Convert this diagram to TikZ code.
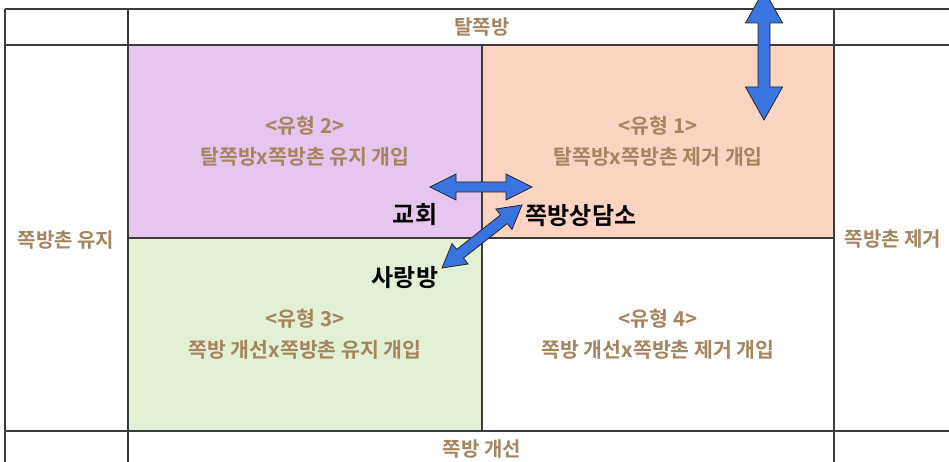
\documentclass[tikz,border=0pt]{standalone}
\usepackage{fontspec}
\setmainfont{Noto Sans CJK KR}[BoldFont={Noto Sans CJK KR Bold}]
\usetikzlibrary{calc}
\definecolor{purp}{HTML}{E4C6EE}
\definecolor{peach}{HTML}{FDD3C2}
\definecolor{mint}{HTML}{E2F0D5}
\definecolor{tanc}{HTML}{A5855F}
\definecolor{gridc}{HTML}{3C3C3C}
\definecolor{arrblue}{HTML}{3A74E0}
\newcommand\dblarr[5]{%
  \draw[arrsty] (#1)
    -- ($(#1)!#3!(#2)!#4!90:(#2)$)
    -- ($(#1)!#3!(#2)!#5!90:(#2)$)
    -- ($(#2)!#3!(#1)!#5!-90:(#1)$)
    -- ($(#2)!#3!(#1)!#4!-90:(#1)$)
    -- (#2)
    -- ($(#2)!#3!(#1)!#4!90:(#1)$)
    -- ($(#2)!#3!(#1)!#5!90:(#1)$)
    -- ($(#1)!#3!(#2)!#5!-90:(#2)$)
    -- ($(#1)!#3!(#2)!#4!-90:(#2)$)
    -- cycle;}
\begin{document}
\begin{tikzpicture}[x=1pt,y=-1pt,
  gridline/.style={draw=gridc,line width=1.2pt},
  cell/.style={draw=gridc,line width=1.2pt,minimum height=193pt,inner sep=0pt,
    text=tanc,align=center,font=\bfseries\fontsize{20.5}{30.5}\selectfont},
  lab/.style={text=tanc,inner sep=0pt,font=\bfseries\fontsize{20}{22}\selectfont},
  blk/.style={text=black,inner sep=0pt,font=\bfseries\fontsize{24}{26}\selectfont},
  arrsty/.style={fill=arrblue,draw=black!85,line width=0.8pt,line join=miter}]
\useasboundingbox (0,0) rectangle (949,462);
\clip (0,0) rectangle (949,462);
\fill[white] (0,0) rectangle (949,462);
% grid lines
\draw[gridline] (5,9) -- (949,9);
\draw[gridline] (5,45) -- (949,45);
\draw[gridline] (5,431) -- (949,431);
\draw[gridline] (5,9) -- (5,462);
\draw[gridline] (128,9) -- (128,462);
\draw[gridline] (834,9) -- (834,462);
% cells
\node[cell,fill=purp,minimum width=354pt] (c2) at (305,141.5) {<유형 2>\\탈쪽방x쪽방촌 유지 개입};
\node[cell,fill=peach,minimum width=352pt] (c1) at (658,141.5) {<유형 1>\\탈쪽방x쪽방촌 제거 개입};
\node[cell,fill=mint,minimum width=354pt] (c3) at (305,334.5) {<유형 3>\\쪽방 개선x쪽방촌 유지 개입};
\node[cell,fill=white,minimum width=352pt] (c4) at (658,334.5) {<유형 4>\\쪽방 개선x쪽방촌 제거 개입};
% axis labels
\node[lab] (top) at (482,27) {탈쪽방};
\node[lab] (bot) at (482,449) {쪽방 개선};
\node[lab] (left) at (66,240) {쪽방촌 유지};
\node[lab] (right) at (893,239) {쪽방촌 제거};
% black labels
\node[blk] (church) at (415,215) {교회};
\node[blk] (center) at (581,216) {쪽방상담소};
\node[blk] (sarang) at (405,278) {사랑방};
% arrows
\coordinate (v1) at (764,-10);
\coordinate (v2) at (764,120);
\coordinate (h1) at (430,187);
\coordinate (h2) at (532,187);
\coordinate (d1) at (442,268);
\coordinate (d2) at (522,205);
\dblarr{v1}{v2}{33pt}{18.5pt}{6pt}
\dblarr{h1}{h2}{26pt}{13pt}{5pt}
\dblarr{d1}{d2}{23pt}{13pt}{5.5pt}
\end{tikzpicture}
\end{document}
